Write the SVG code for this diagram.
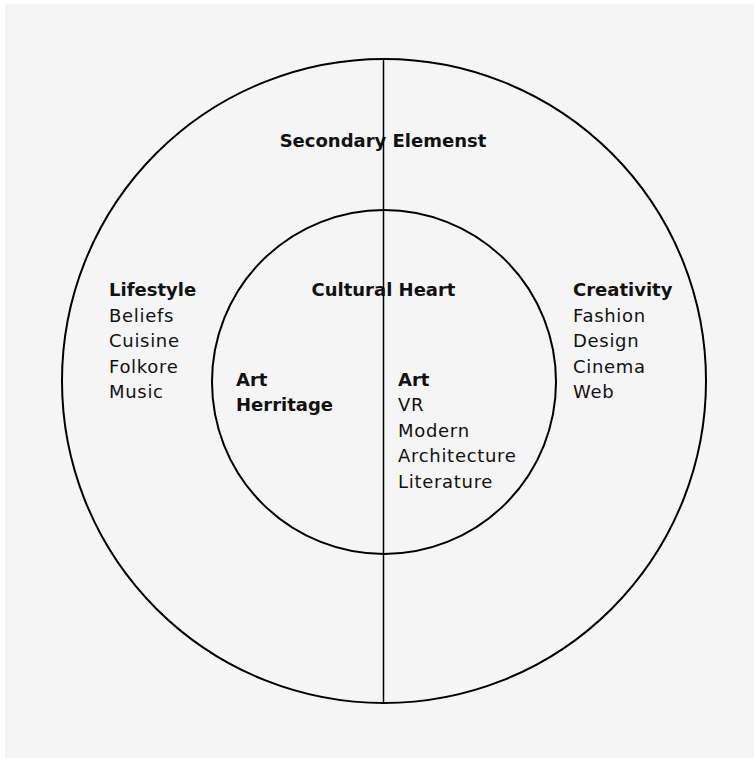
<svg xmlns="http://www.w3.org/2000/svg" width="754" height="758" viewBox="0 0 754 758">
<style>
.ring{fill:none;stroke:#000;stroke-width:2}
.conn{stroke:#000;stroke-width:1.5}
text{font-family:"DejaVu Sans","Liberation Sans",sans-serif;font-size:18px;fill:#111}
.b{font-weight:bold}
.r{letter-spacing:0.7px}
</style>
<rect x="0" y="0" width="754" height="758" fill="#ffffff"/>
<rect x="5" y="4" width="749" height="754" fill="#f5f5f5"/>
<g id="outer">
<circle class="ring" cx="384" cy="381" r="322"/>
<text class="b" x="383" y="147" text-anchor="middle">Secondary Elemenst</text>
</g>
<g id="lifestyle">
<text class="b" x="109" y="296">Lifestyle</text>
<text class="r" x="109" y="321.5">Beliefs</text>
<text class="r" x="109" y="347">Cuisine</text>
<text class="r" x="109" y="372.5">Folkore</text>
<text class="r" x="109" y="398">Music</text>
</g>
<g id="creativity">
<text class="b" x="573" y="296">Creativity</text>
<text class="r" x="573" y="321.5">Fashion</text>
<text class="r" x="573" y="347">Design</text>
<text class="r" x="573" y="372.5">Cinema</text>
<text class="r" x="573" y="398">Web</text>
</g>
<g id="inner">
<circle class="ring" cx="384" cy="382" r="172"/>
<text class="b" x="383.5" y="296" text-anchor="middle">Cultural Heart</text>
</g>
<g id="art-heritage">
<text class="b" x="236" y="385.5">Art</text>
<text class="b" x="236" y="411">Herritage</text>
</g>
<g id="art">
<text class="b" x="398" y="385.5">Art</text>
<text class="r" x="398" y="411">VR</text>
<text class="r" x="398" y="436.5">Modern</text>
<text class="r" x="398" y="462">Architecture</text>
<text class="r" x="398" y="487.5">Literature</text>
</g>
<g id="connectors">
<line class="conn" x1="383.5" y1="59" x2="383.5" y2="703"/>
</g>
</svg>
